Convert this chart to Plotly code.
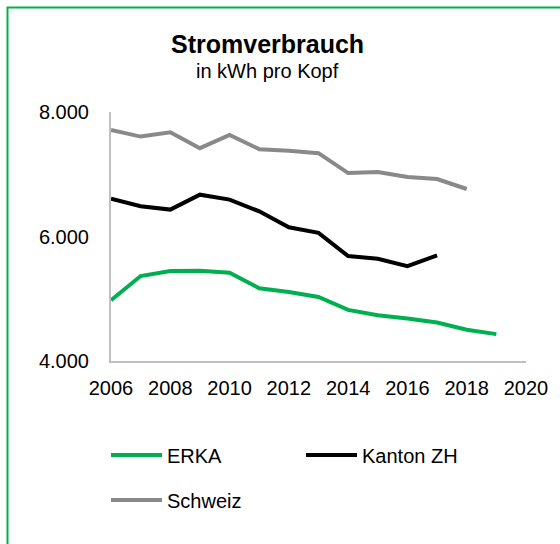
import plotly.graph_objects as go

years = list(range(2006, 2020))
erka = [4976, 5365, 5445, 5451, 5419, 5168, 5109, 5029, 4821, 4736, 4683, 4619, 4501, 4432]
kanton_zh = [6608, 6485, 6432, 6672, 6592, 6405, 6149, 6059, 5685, 5643, 5525, 5696, None, None]
schweiz = [7712, 7605, 7675, 7419, 7632, 7403, 7376, 7339, 7019, 7035, 6955, 6923, 6763, None]

series_names = ["ERKA", "Kanton ZH", "Schweiz"]
series_colors = ["#00b050", "#000000", "#898989"]
series_legends = ["legend", "legend", "legend2"]

title_text = "Stromverbrauch"
subtitle_text = "in kWh pro Kopf"

FONT = "Liberation Sans, Arial, sans-serif"

fig = go.Figure()
for name, vals, col, lg in zip(series_names, [erka, kanton_zh, schweiz], series_colors, series_legends):
    fig.add_trace(go.Scatter(x=years, y=vals, name=name, mode="lines", legend=lg,
                             line=dict(color=col, width=4), connectgaps=False))

PW, PH, L, T = 415, 249, 111, 112

legend_common = dict(orientation="h", xanchor="left", yanchor="top",
                     entrywidth=129, entrywidthmode="pixels", itemwidth=51,
                     font=dict(size=20), bgcolor="rgba(0,0,0,0)")

fig.update_layout(
    width=560, height=544,
    margin=dict(l=L, r=560 - L - PW, t=T, b=544 - T - PH),
    paper_bgcolor="white", plot_bgcolor="white",
    font=dict(family=FONT, size=20, color="#000000"),
    separators=",.",
    showlegend=True,
    legend=dict(x=(106 - L) / PW, y=-(435.5 - (T + PH)) / PH, **legend_common),
    legend2=dict(x=(106 - L) / PW, y=-(480.5 - (T + PH)) / PH, **legend_common),
    xaxis=dict(range=[2006, 2020], dtick=2, tick0=2006, showgrid=False, zeroline=False,
               showline=True, linecolor="#bfbfbf", linewidth=2, ticks="",
               ticklabelstandoff=8, tickfont=dict(size=20)),
    yaxis=dict(range=[4000, 8000], dtick=2000, tickformat=",d", showgrid=False, zeroline=False,
               showline=True, linecolor="#bfbfbf", linewidth=2, ticks="",
               ticklabelstandoff=16, tickfont=dict(size=20)),
    annotations=[
        dict(text="<b>" + title_text + "</b>", xref="paper", yref="paper",
             x=(267.5 - L) / PW, y=1 + (T - 44) / PH, xanchor="center", yanchor="middle",
             showarrow=False, font=dict(size=25)),
        dict(text=subtitle_text, xref="paper", yref="paper",
             x=(267.5 - L) / PW, y=1 + (T - 71) / PH, xanchor="center", yanchor="middle",
             showarrow=False, font=dict(size=20)),
    ],
    shapes=[dict(type="rect", xref="paper", yref="paper",
                 x0=(7.5 - L) / PW, x1=1.5, y0=-1.5, y1=1 + (T - 7.5) / PH,
                 line=dict(color="#00b050", width=2), fillcolor="rgba(0,0,0,0)", layer="below")],
)

fig.write_html("out.html", config={"displayModeBar": False},
               post_script="document.body.style.margin='0';")
